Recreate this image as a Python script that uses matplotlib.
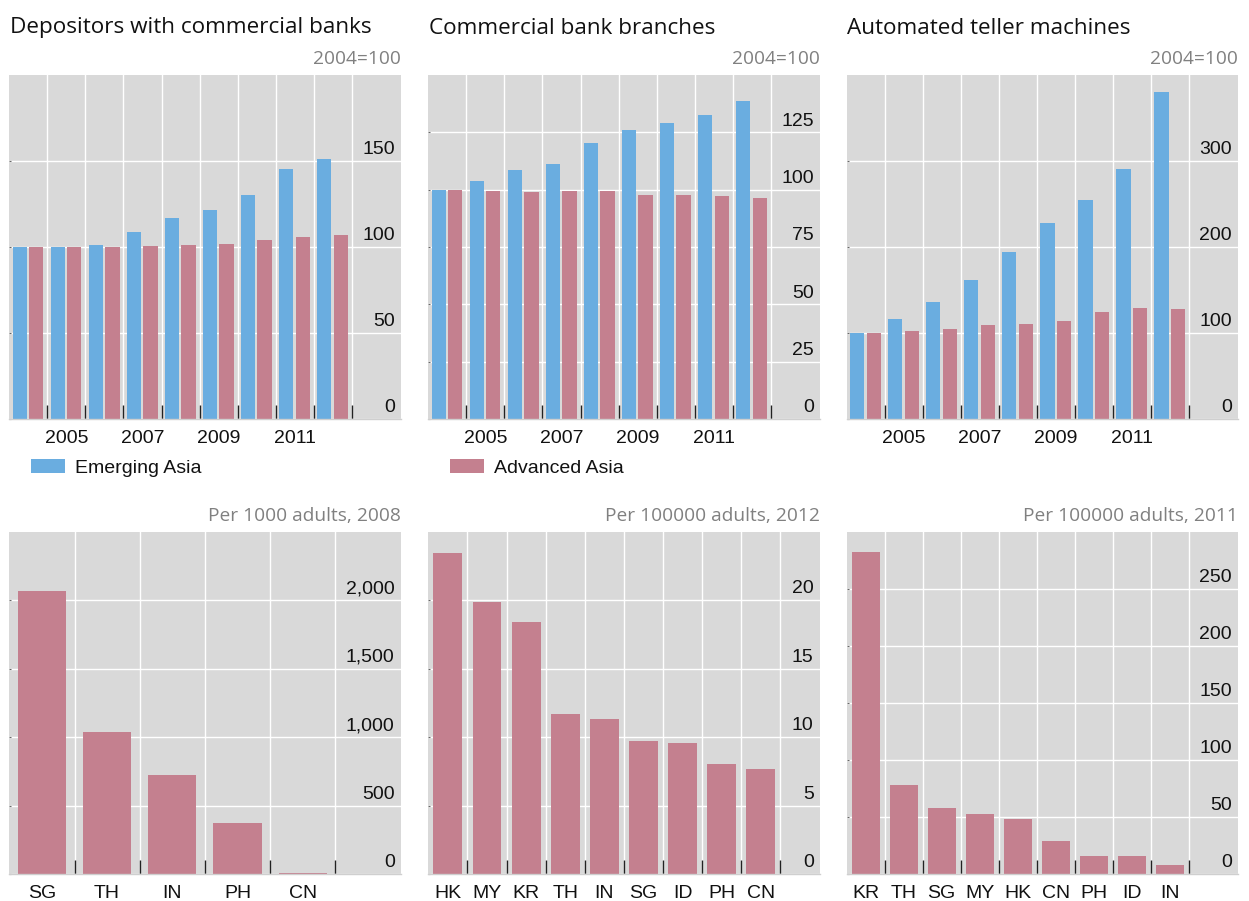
import matplotlib
matplotlib.use("Agg")
import matplotlib.pyplot as plt
import matplotlib.transforms as mtransforms
from matplotlib.patches import Patch

# ---- data -------------------------------------------------------------
years = [2004, 2005, 2006, 2007, 2008, 2009, 2010, 2011, 2012]
year_labels = ["", "2005", "", "2007", "", "2009", "", "2011", ""]

depositors_emerging = [100, 100, 101.4, 108.9, 117.0, 121.7, 130.4, 145.5, 151.4]
depositors_advanced = [100, 100, 100.2, 100.8, 101.4, 101.9, 104.3, 106.0, 107.2]

branches_emerging = [100, 103.9, 108.7, 111.3, 120.5, 126.2, 129.2, 132.7, 138.8]
branches_advanced = [100, 99.4, 99.0, 99.4, 99.4, 97.8, 97.8, 97.4, 96.5]

atm_emerging = [100, 115.9, 135.7, 161.2, 193.8, 227.5, 254.3, 290.3, 379.8]
atm_advanced = [100, 102.0, 104.3, 109.0, 110.0, 113.6, 124.0, 128.7, 127.5]

dep_countries = ["SG", "TH", "IN", "PH", "CN"]
dep_values = [2068, 1033, 719, 369, 8]

branch_countries = ["HK", "MY", "KR", "TH", "IN", "SG", "ID", "PH", "CN"]
branch_values = [23.45, 19.88, 18.42, 11.7, 11.34, 9.73, 9.59, 8.05, 7.69]

atm_countries = ["KR", "TH", "SG", "MY", "HK", "CN", "PH", "ID", "IN"]
atm_values = [282.4, 78.3, 58.1, 52.9, 48.5, 29.2, 16.1, 16.1, 8.2]

titles = ["Depositors with commercial banks", "Commercial bank branches",
          "Automated teller machines"]
top_units = "2004=100"
bottom_units = ["Per 1000 adults, 2008", "Per 100000 adults, 2012",
                "Per 100000 adults, 2011"]

# ---- style ------------------------------------------------------------
BLUE = "#6aade0"
PINK = "#c4808f"
BG = "#d9d9d9"
TICK_FONT = "Liberation Sans"
TITLE_FONT = "Open Sans"

W, H = 1249, 901
fig = plt.figure(figsize=(W / 100, H / 100), dpi=100)
fig.patch.set_facecolor("white")

lefts_px = [9.3, 428.3, 846.7]
width_px = 391.3


def make_axes(left_px, top_px, bottom_px):
    return fig.add_axes([left_px / W, 1 - bottom_px / H,
                         width_px / W, (bottom_px - top_px) / H])


def style_axes(ax, xmax, ymax, yticks, ylabels, boundaries, centers, clabels):
    ax.set_facecolor(BG)
    ax.set_axisbelow(True)
    ax.set_xlim(0, xmax)
    ax.set_ylim(0, ymax)
    for s in ("top", "left", "right"):
        ax.spines[s].set_visible(False)
    ax.spines["bottom"].set_color("#cfcfcf")
    ax.spines["bottom"].set_linewidth(1.0)

    # category boundaries: white grid plus short dark ticks
    ax.set_xticks(boundaries)
    ax.set_xticklabels([""] * len(boundaries))
    ax.tick_params(axis="x", which="major", direction="in", length=10,
                   width=1.0, color="#222222", bottom=True)
    # category labels centred in each slot
    ax.set_xticks(centers, minor=True)
    ax.set_xticklabels(clabels, minor=True, fontsize=14, family=TICK_FONT)
    ax.tick_params(axis="x", which="minor", length=0, pad=8.2,
                   labelcolor="#111111")

    ax.set_yticks(yticks)
    ax.set_yticklabels(ylabels)
    ax.tick_params(axis="y", which="major", left=True, right=False,
                   labelleft=False, labelright=True, direction="in",
                   length=1.5, width=0.8, color="#666666", pad=-4.3,
                   labelsize=14, labelcolor="#111111")
    lift = mtransforms.ScaledTranslation(0, 2.0 / 72, fig.dpi_scale_trans)
    for t in ax.yaxis.get_major_ticks():
        t.label2.set_horizontalalignment("right")
        t.label2.set_verticalalignment("bottom")
        t.label2.set_family(TICK_FONT)
        t.label2.set_transform(t.label2.get_transform() + lift)

    ax.grid(True, which="major", color="white", linewidth=1.0)


def fmt(v):
    return f"{v:,}"


# ---- top row: index series -------------------------------------------
top_sets = [
    (depositors_emerging, depositors_advanced, 200, [0, 50, 100, 150]),
    (branches_emerging, branches_advanced, 150, [0, 25, 50, 75, 100, 125]),
    (atm_emerging, atm_advanced, 400, [0, 100, 200, 300]),
]
n = len(years)
slots = list(range(n))
bar_w = 0.375
top_axes = []
for i, (em, adv, ymax, yt) in enumerate(top_sets):
    ax = make_axes(lefts_px[i], 75, 419)
    style_axes(ax, 10.28, ymax, yt, [fmt(v) for v in yt],
               list(range(1, n + 1)), [s + 0.5 for s in slots], year_labels)
    ax.bar([s + 0.273 for s in slots], em, width=bar_w, color=BLUE,
           linewidth=0, zorder=2)
    ax.bar([s + 0.708 for s in slots], adv, width=bar_w, color=PINK,
           linewidth=0, zorder=2)
    top_axes.append(ax)
    fig.text(lefts_px[i] / W + 0.0003, 1 - 33.5 / H, titles[i],
             fontsize=16.2, family=TITLE_FONT, color="#111111",
             ha="left", va="baseline")
    fig.text((lefts_px[i] + width_px) / W, 1 - 64.5 / H, top_units,
             fontsize=13.8, family=TITLE_FONT, color="#808080",
             ha="right", va="baseline")

# legends under the first two panels
leg_specs = [(top_axes[0], BLUE, "Emerging Asia"),
             (top_axes[1], PINK, "Advanced Asia")]
for ax, col, lab in leg_specs:
    leg = ax.legend(handles=[Patch(facecolor=col, edgecolor="none", label=lab)],
                    loc="center left", bbox_to_anchor=(0.0555, -0.142),
                    frameon=False, borderpad=0, borderaxespad=0,
                    handlelength=1.75, handleheight=0.74, handletextpad=0.52,
                    prop={"family": TICK_FONT, "size": 14})
    for txt in leg.get_texts():
        txt.set_color("#111111")

# ---- bottom row: country comparisons ---------------------------------
bottom_sets = [
    (dep_countries, dep_values, 6, 2500, [0, 500, 1000, 1500, 2000]),
    (branch_countries, branch_values, 10, 25, [0, 5, 10, 15, 20]),
    (atm_countries, atm_values, 10.3, 300, [0, 50, 100, 150, 200, 250]),
]
for i, (cats, vals, xmax, ymax, yt) in enumerate(bottom_sets):
    ax = make_axes(lefts_px[i], 531.5, 874)
    m = len(cats)
    pos = list(range(m))
    style_axes(ax, xmax, ymax, yt, [fmt(v) for v in yt],
               list(range(1, m + 1)), [p + 0.5 for p in pos], cats)
    ax.bar([p + 0.5 for p in pos], vals, width=0.74, color=PINK,
           linewidth=0, zorder=2)
    fig.text((lefts_px[i] + width_px) / W, 1 - 521.3 / H, bottom_units[i],
             fontsize=13.8, family=TITLE_FONT, color="#808080",
             ha="right", va="baseline")

fig.savefig("out.png", dpi=100, facecolor="white")
